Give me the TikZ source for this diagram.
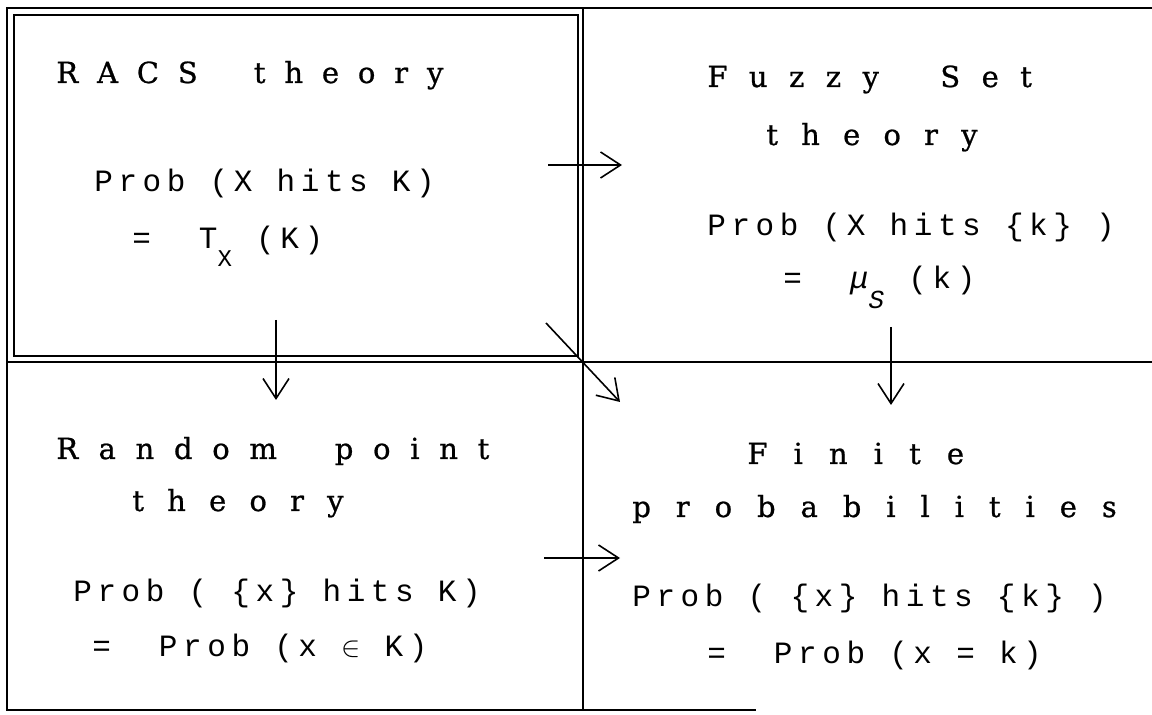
\documentclass[tikz,border=0pt]{standalone}
\usepackage{fontspec}
\usepackage{tikz}
\usetikzlibrary{arrows.meta}
\newfontfamily\titlefont{DejaVu Serif}[WordSpace=2, FakeBold=0.8]
\newfontfamily\formfont{Liberation Mono}[LetterSpace=18]
\newcommand{\lowsub}[2][9pt]{\raisebox{-#1}{\fontsize{12}{12}\selectfont #2}}
\tikzset{
  gridline/.style={line width=1.1pt},
  titletext/.style={anchor=base west, inner sep=0pt, font=\fontsize{14.5}{17}\titlefont\addfontfeature{LetterSpace=#1}},
  formtext/.style={anchor=base west, inner sep=0pt, font=\fontsize{15.5}{18}\formfont},
  flowarr/.style={line width=0.8pt, -{Straight Barb[length=10pt,width=13pt]}},
}
\begin{document}
\begin{tikzpicture}[x=0.5pt, y=-0.5pt]
\useasboundingbox (0,0) rectangle (1152,715);
\draw[gridline] (1152,8) -- (7,8) -- (7,710) -- (756,710);
\draw[gridline] (7,362) -- (1152,362);
\draw[gridline] (583,8) -- (583,710);
\draw[gridline] (14,15) rectangle (578,356);
\node[titletext=65] (racs) at (56,83) {RACS theory};
\node[formtext] (racsp) at (94,192) {Prob (X hits K)};
\node[formtext] (racse) at (132,249) {=\hspace{24pt}T\lowsub{X} (K)};
\node[titletext=74] (fuz) at (707,87) {Fuzzy Set};
\node[titletext=80] (fuzt) at (766,145) {theory};
\node[formtext] (fuzp) at (707,236) {Prob (X hits \{k\} )};
\node[formtext] (fuze) at (783,289) {=\hspace{24pt}{\itshape μ}\lowsub[10pt]{\fontsize{13}{13}\selectfont\itshape S} (k)};
\node[titletext=68] (rnd) at (56,459) {Random point};
\node[titletext=80] (rndt) at (132,511) {theory};
\node[formtext] (rndp) at (73,602) {Prob ( \{x\} hits K)};
\node[formtext] (rnde) at (92,657) {=\hspace{24pt}Prob (x $\in$ K)};
\node[titletext=90] (fin) at (747,464) {Finite};
\node[titletext=86] (fint) at (632,517) {probabilities};
\node[formtext] (finp) at (632,607) {Prob ( \{x\} hits \{k\} )};
\node[formtext] (fine) at (707,664) {=\hspace{24pt}Prob (x = k)};
\coordinate (racs-r) at (548,165); \coordinate (fuz-l) at (622,165);
\coordinate (racs-b) at (276,320); \coordinate (rnd-t) at (276,400);
\coordinate (racs-c) at (546,323); \coordinate (fin-c) at (620,402);
\coordinate (fuz-b) at (891,327); \coordinate (fin-t) at (891,405);
\coordinate (rnd-r) at (544,558); \coordinate (fin-l) at (620,558);
\draw[flowarr] (racs-r) -- (fuz-l);
\draw[flowarr] (racs-b) -- (rnd-t);
\draw[flowarr] (racs-c) -- (fin-c);
\draw[flowarr] (fuz-b) -- (fin-t);
\draw[flowarr] (rnd-r) -- (fin-l);
\end{tikzpicture}
\end{document}
